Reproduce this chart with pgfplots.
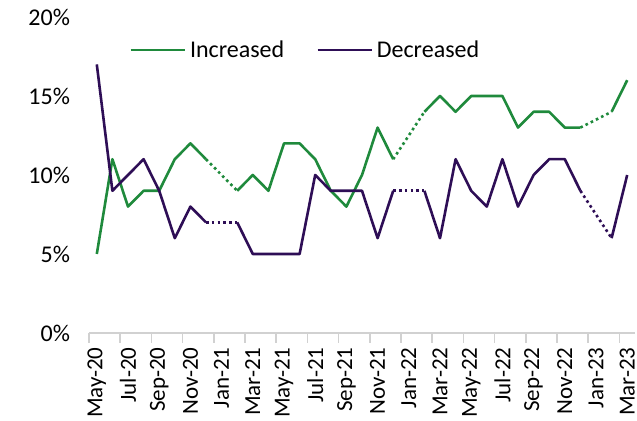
\documentclass[border=0pt]{standalone}
\usepackage{fontspec}
\setmainfont{Carlito}
\usepackage{pgfplots}
\usepackage{pgfplotstable}
\pgfplotsset{compat=1.18}
\definecolor{incgreen}{RGB}{31,138,60}
\definecolor{decpurple}{RGB}{46,14,86}
\pgfplotstableread{
i inc dec
0 5 17
1 11 9
2 8 10
3 9 11
4 9 9
5 11 6
6 12 8
7 11 7
8 nan nan
9 9 7
10 10 5
11 9 5
12 12 5
13 12 5
14 11 10
15 9 9
16 8 9
17 10 9
18 13 6
19 11 9
20 nan nan
21 14 9
22 15 6
23 14 11
24 15 9
25 15 8
26 15 11
27 13 8
28 14 10
29 14 11
30 13 11
31 13 9
32 nan nan
33 14 6
34 16 10
}\datatable
\begin{document}
\begin{tikzpicture}
\useasboundingbox (-44.5pt,-44pt) rectangle (274pt,166.5pt);
\begin{axis}[
  at={(0pt,0pt)}, anchor=south west,
  scale only axis, width=273pt, height=158pt,
  xmin=-0.5, xmax=34.5, ymin=0, ymax=20,
  no marks,
  axis x line*=bottom, axis y line*=left,
  y axis line style={draw=none},
  x axis line style={draw=black!18, line width=0.8pt, -},
  tick align=outside,
  xtick={0,2,...,34},
  xticklabels={May-20,Jul-20,Sep-20,Nov-20,Jan-21,Mar-21,May-21,Jul-21,Sep-21,Nov-21,Jan-22,Mar-22,May-22,Jul-22,Sep-22,Nov-22,Jan-23,Mar-23},
  x tick label style={rotate=90, anchor=east, inner xsep=7pt, inner ysep=0pt, font=\fontsize{11.5}{13}\selectfont},
  major x tick style={draw=none},
  major tick length=0pt,
  minor xtick={-0.5,1.5,...,33.5},
  minor tick length=5pt,
  minor x tick style={draw=black!18, line width=0.8pt},
  ytick={0,5,10,15,20},
  ytick style={draw=none},
  yticklabel={\pgfmathprintnumber{\tick}\%},
  y tick label style={font=\fontsize{12}{14}\selectfont, xshift=-6pt},
  /pgf/number format/assume math mode=true,
  legend style={at={(0.398,0.895)}, anchor=center, draw=none, fill=none,
    font=\fontsize{12}{14}\selectfont,
    /tikz/every even column/.append style={column sep=14pt}},
  legend columns=2,
  legend image code/.code={\draw[#1] (0pt,0pt) -- (27pt,0pt);},
  every axis plot/.append style={line width=1.3pt, line join=round},
]
\addplot[incgreen, unbounded coords=jump] table[x=i,y=inc]{\datatable};
\addlegendentry{Increased}
\addplot[decpurple, unbounded coords=jump] table[x=i,y=dec]{\datatable};
\addlegendentry{Decreased}
\addplot[incgreen, dash pattern=on 1.3pt off 1.6pt, forget plot] coordinates {(7,11) (9,9)};
\addplot[incgreen, dash pattern=on 1.3pt off 1.6pt, forget plot] coordinates {(19,11) (21,14)};
\addplot[incgreen, dash pattern=on 1.3pt off 1.6pt, forget plot] coordinates {(31,13) (33,14)};
\addplot[decpurple, dash pattern=on 1.3pt off 1.6pt, forget plot] coordinates {(7,7) (9,7)};
\addplot[decpurple, dash pattern=on 1.3pt off 1.6pt, forget plot] coordinates {(19,9) (21,9)};
\addplot[decpurple, dash pattern=on 1.3pt off 1.6pt, forget plot] coordinates {(31,9) (33,6)};
\end{axis}
\end{tikzpicture}
\end{document}
